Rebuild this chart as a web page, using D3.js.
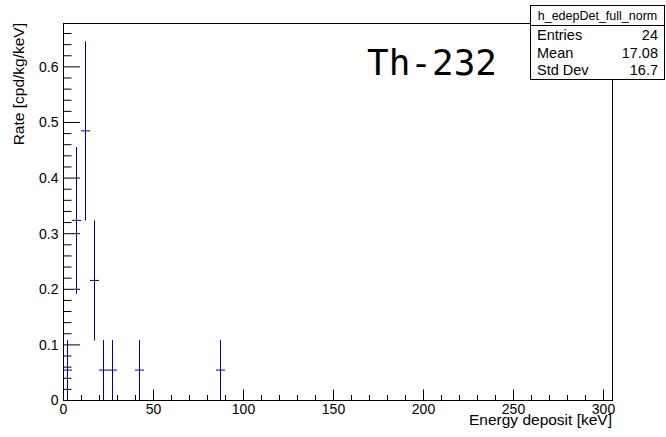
<!DOCTYPE html>
<html>
<head>
<meta charset="utf-8">
<script src="https://cdn.jsdelivr.net/npm/d3@7"></script>
<style>
  html, body { margin: 0; padding: 0; background: #fff; }
  svg { display: block; }
  text { fill: #000; }
</style>
</head>
<body>
<svg id="chart" width="666" height="437"></svg>
<script>
// Histogram h_edepDet_full_norm: 5 keV bins, rate with Poisson errors
const binCenters = [2.5, 7.5, 12.5, 17.5, 22.5, 27.5, 42.5, 87.5];
const rates      = [0.0538, 0.323, 0.484, 0.215, 0.0538, 0.0538, 0.0538, 0.0538];
const errors     = [0.0538, 0.132, 0.161, 0.108, 0.0538, 0.0538, 0.0538, 0.0538];
const binWidth = 5;

const xMajorTicks = [0, 50, 100, 150, 200, 250, 300];
const yMajorTicks = [0, 0.1, 0.2, 0.3, 0.4, 0.5, 0.6];

const statsTitle = "h_edepDet_full_norm";
const statsNames  = ["Entries", "Mean", "Std Dev"];
const statsValues = ["24", "17.08", "16.7"];

const isotopeLabel = "Th-232";
const xTitle = "Energy deposit [keV]";
const yTitle = "Rate [cpd/kg/keV]";

const sans = "'Liberation Sans', Arial, Helvetica, sans-serif";
const frame = { left: 63, right: 612, top: 23, bottom: 400 };
const svg = d3.select("#chart");

const x = d3.scaleLinear().domain([0, 305]).range([frame.left, frame.right]);
const y = d3.scaleLinear().domain([0, 0.678]).range([frame.bottom, frame.top]);

// Frame
svg.append("rect")
  .attr("x", frame.left + 0.5).attr("y", frame.top + 0.5)
  .attr("width", frame.right - frame.left).attr("height", frame.bottom - frame.top)
  .attr("fill", "none").attr("stroke", "#000").attr("stroke-width", 1);

// X axis: inward major and minor ticks
const xMinor = d3.range(0, 306, 10).filter(v => v % 50 !== 0);
const gxMinor = svg.append("g").attr("transform", `translate(0,${frame.bottom + 0.5})`)
  .call(d3.axisBottom(x).tickValues(xMinor).tickSize(-5.5).tickFormat(""));
const gx = svg.append("g").attr("transform", `translate(0,${frame.bottom + 0.5})`)
  .call(d3.axisBottom(x).tickValues(xMajorTicks).tickSize(-11).tickPadding(4).tickFormat(d3.format("d")));

// Y axis: inward major and minor ticks
const yMinor = d3.range(0, 0.678, 0.02).filter(v => Math.abs(v * 10 - Math.round(v * 10)) > 1e-6);
const gyMinor = svg.append("g").attr("transform", `translate(${frame.left + 0.5},0)`)
  .call(d3.axisLeft(y).tickValues(yMinor).tickSize(-8).tickFormat(""));
const gy = svg.append("g").attr("transform", `translate(${frame.left + 0.5},0)`)
  .call(d3.axisLeft(y).tickValues(yMajorTicks).tickSize(-16.5).tickPadding(5).tickFormat(d => d === 0 ? "0" : d3.format(".1f")(d)));

[gx, gy, gxMinor, gyMinor].forEach(g => {
  g.select(".domain").remove();
  g.selectAll(".tick line").attr("stroke", "#000");
  g.selectAll("text").style("font-size", "14px").style("font-family", sans).attr("fill", "#000");
});
gy.selectAll(".tick text").attr("dy", "0.35em");

// Axis titles
svg.append("text")
  .attr("x", frame.right).attr("y", 425)
  .attr("text-anchor", "end")
  .style("font-family", sans).style("font-size", "15.5px")
  .text(xTitle);

svg.append("text")
  .attr("transform", `translate(24,${frame.top}) rotate(-90)`)
  .attr("text-anchor", "end")
  .style("font-family", sans).style("font-size", "15.5px")
  .text(yTitle);

// Error-bar crosses
const color = "#000099";
const pts = binCenters.map((c, i) => ({ c, v: rates[i], e: errors[i] }));
const marks = svg.append("g").attr("stroke", color).attr("stroke-width", 1);
marks.selectAll("line.v").data(pts).join("line").attr("class", "v")
  .attr("x1", d => x(d.c)).attr("x2", d => x(d.c))
  .attr("y1", d => y(Math.max(0, d.v - d.e))).attr("y2", d => y(d.v + d.e));
marks.selectAll("line.h").data(pts).join("line").attr("class", "h")
  .attr("x1", d => x(d.c - binWidth / 2)).attr("x2", d => x(d.c + binWidth / 2))
  .attr("y1", d => y(d.v)).attr("y2", d => y(d.v));

// Isotope label
svg.append("text")
  .attr("x", 367).attr("y", 75)
  .style("font-family", "'DejaVu Sans Mono', monospace")
  .style("font-size", "36px")
  .text(isotopeLabel);

// Statistics box
const box = { x: 530, y: 5, w: 135, h: 74, header: 20 };
const stats = svg.append("g");
stats.append("rect")
  .attr("x", box.x + 0.5).attr("y", box.y + 0.5)
  .attr("width", box.w - 1).attr("height", box.h)
  .attr("fill", "#fff").attr("stroke", "#000");
stats.append("line")
  .attr("x1", box.x).attr("x2", box.x + box.w)
  .attr("y1", box.y + box.header + 0.5).attr("y2", box.y + box.header + 0.5)
  .attr("stroke", "#000");
stats.append("text")
  .attr("x", box.x + box.w / 2).attr("y", box.y + 15)
  .attr("text-anchor", "middle")
  .style("font-family", sans).style("font-size", "12.5px")
  .text(statsTitle);
statsNames.forEach((name, i) => {
  const yy = 40 + i * 17.5;
  stats.append("text").attr("x", 537).attr("y", yy)
    .style("font-family", sans).style("font-size", "14.5px").text(name);
  stats.append("text").attr("x", 658).attr("y", yy).attr("text-anchor", "end")
    .style("font-family", sans).style("font-size", "14.5px").text(statsValues[i]);
});
</script>
</body>
</html>
